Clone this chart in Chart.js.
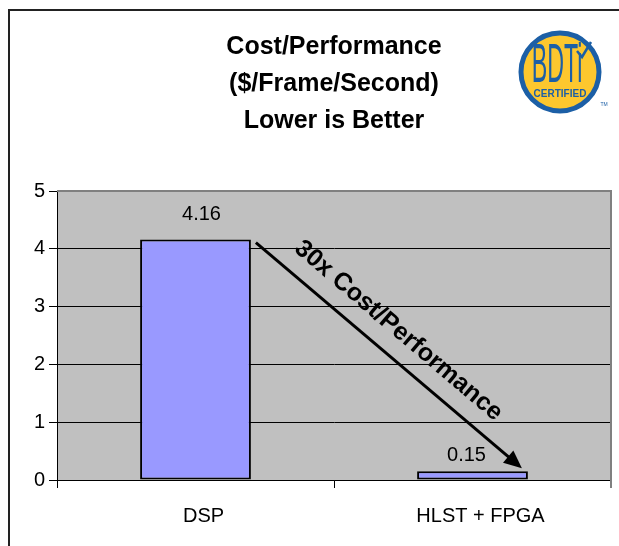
<!DOCTYPE html>
<html>
<head>
<meta charset="utf-8">
<title>Cost/Performance</title>
<script src="https://cdn.jsdelivr.net/npm/chart.js@4.4.1/dist/chart.umd.min.js"></script>
<style>
  html, body { margin: 0; padding: 0; background: #fff; }
  #wrap { width: 619px; height: 546px; }
</style>
</head>
<body>
<div id="wrap"><canvas id="costChart" width="619" height="546"></canvas></div>
<script>

// chart data
const categories = ['DSP', 'HLST + FPGA'];
const costPerFps = [4.16, 0.15];
const valueLabels = ['4.16', '0.15'];
const yTicks = [0, 1, 2, 3, 4, 5];
const titleLines = ['Cost/Performance', '($/Frame/Second)', 'Lower is Better'];
const arrowText = '30x Cost/Performance';

const FONT = '"Liberation Sans", Arial, sans-serif';
Chart.defaults.font.family = FONT;
Chart.defaults.color = '#000';

// gray plot area + gray top/right border
const plotBackground = {
  id: 'plotBackground',
  beforeDraw(chart) {
    const { ctx, chartArea: a } = chart;
    ctx.save();
    ctx.fillStyle = '#C0C0C0';
    ctx.fillRect(a.left, a.top, a.right - a.left, a.bottom - a.top);
    ctx.restore();
  },
  afterDraw(chart) {
    const { ctx, chartArea: a } = chart;
    ctx.save();
    ctx.strokeStyle = '#808080';
    ctx.lineWidth = 2;
    ctx.beginPath();
    ctx.moveTo(a.left, a.top);
    ctx.lineTo(a.right, a.top);
    ctx.lineTo(a.right, a.bottom + 8);
    ctx.stroke();
    ctx.restore();
  }
};

// outer frame (runs off the right / bottom of the picture)
const outerFrame = {
  id: 'outerFrame',
  afterDraw(chart) {
    const ctx = chart.ctx;
    ctx.save();
    ctx.strokeStyle = '#222';
    ctx.lineWidth = 2;
    ctx.beginPath();
    ctx.moveTo(9, chart.height + 2);
    ctx.lineTo(9, 10);
    ctx.lineTo(chart.width + 2, 10);
    ctx.stroke();
    ctx.restore();
  }
};

// value labels above bars
const barValues = {
  id: 'barValues',
  afterDatasetsDraw(chart, args, opts) {
    const ctx = chart.ctx;
    const meta = chart.getDatasetMeta(0);
    ctx.save();
    ctx.font = '20px ' + FONT;
    ctx.fillStyle = '#000';
    ctx.textAlign = 'center';
    ctx.textBaseline = 'middle';
    meta.data.forEach((bar, i) => {
      ctx.fillText(valueLabels[i], bar.x + opts.shiftX[i], bar.y - opts.offsets[i]);
    });
    ctx.restore();
  }
};

// arrow from the DSP bar down to the FPGA bar, with its caption
const savingArrow = {
  id: 'savingArrow',
  afterDatasetsDraw(chart) {
    const ctx = chart.ctx;
    const meta = chart.getDatasetMeta(0);
    const b0 = meta.data[0], b1 = meta.data[1];
    const x0 = b0.x + b0.width / 2 + 5, y0 = b0.y + 3;
    const x1 = b1.x + b1.width / 2 - 6, y1 = b1.y - 3;
    const ang = Math.atan2(y1 - y0, x1 - x0);
    const len = Math.hypot(x1 - x0, y1 - y0);
    const head = 18, half = 8;

    ctx.save();
    ctx.translate(x0, y0);
    ctx.rotate(ang);
    ctx.strokeStyle = '#000';
    ctx.fillStyle = '#000';
    ctx.lineWidth = 3;
    ctx.beginPath();
    ctx.moveTo(0, 0);
    ctx.lineTo(len - head + 2, 0);
    ctx.stroke();
    ctx.beginPath();
    ctx.moveTo(len, 0);
    ctx.lineTo(len - head, -half);
    ctx.lineTo(len - head, half);
    ctx.closePath();
    ctx.fill();

    ctx.font = 'bold 25px ' + FONT;
    ctx.textAlign = 'center';
    ctx.textBaseline = 'middle';
    ctx.fillText(arrowText, len * 0.475, -25);
    ctx.restore();
  }
};

// BDTi certified badge
const badge = {
  id: 'badge',
  afterDraw(chart) {
    const ctx = chart.ctx;
    const cx = 560, cy = 72, r = 39;
    const blue = '#1C5FA6';
    ctx.save();
    ctx.beginPath();
    ctx.arc(cx, cy, r, 0, Math.PI * 2);
    ctx.fillStyle = '#FDC72E';
    ctx.fill();
    ctx.lineWidth = 5;
    ctx.strokeStyle = blue;
    ctx.stroke();

    ctx.fillStyle = blue;
    ctx.textAlign = 'center';
    ctx.textBaseline = 'alphabetic';
    ctx.save();
    ctx.translate(cx - 3, cy + 10);
    ctx.scale(0.58, 1.4);
    ctx.font = '40px ' + FONT;
    ctx.fillText('BDTi', 0, 0);
    ctx.restore();

    // check mark over the i
    ctx.beginPath();
    ctx.moveTo(cx + 17, cy - 21);
    ctx.lineTo(cx + 22, cy - 15);
    ctx.lineTo(cx + 31, cy - 30);
    ctx.lineWidth = 2.5;
    ctx.strokeStyle = blue;
    ctx.stroke();

    ctx.font = 'bold 10px ' + FONT;
    ctx.fillText('CERTIFIED', cx, cy + 25);
    ctx.font = '5px ' + FONT;
    ctx.fillText('TM', cx + 44, cy + 34);
    ctx.restore();
  }
};

const ctx = document.getElementById('costChart').getContext('2d');
const costChart = new Chart(ctx, {
  type: 'bar',
  data: {
    labels: categories,
    datasets: [{
      label: 'Cost/Performance',
      data: costPerFps,
      backgroundColor: '#9999FF',
      borderColor: '#000',
      borderWidth: 2,
      borderSkipped: false,
      barPercentage: 0.4,
      categoryPercentage: 1.0
    }]
  },
  options: {
    responsive: false,
    animation: false,
    devicePixelRatio: 1,
    layout: { padding: { left: 10, right: 8, top: 0, bottom: 0 } },
    plugins: {
      legend: { display: false },
      tooltip: { enabled: false },
      title: {
        display: true,
        fullSize: false,
        text: titleLines,
        color: '#000',
        font: { size: 25, weight: 'bold', lineHeight: 1.48 },
        padding: { top: 28.5, bottom: 51.5 }
      },
      barValues: { offsets: [25, 16], shiftX: [6, -6] }
    },
    scales: {
      x: {
        grid: {
          display: true,
          drawOnChartArea: false,
          drawTicks: true,
          tickLength: 8,
          color: '#000'
        },
        border: { display: true, color: '#000', width: 1 },
        ticks: { font: { size: 20 }, padding: 16, labelOffset: 8, color: '#000' },
        afterFit(scale) { scale.height = 66; }
      },
      y: {
        min: 0,
        max: 5,
        afterBuildTicks(scale) { scale.ticks = yTicks.map(v => ({ value: v })); },
        grid: {
          color: c => (c.tick && c.tick.value === 5 ? '#808080' : '#000'),
          tickColor: '#000',
          tickLength: 8,
          lineWidth: 1
        },
        border: { display: true, color: '#000', width: 1 },
        ticks: { font: { size: 20 }, padding: 4, color: '#000' },
        afterFit(scale) { scale.width = 47; }
      }
    }
  },
  plugins: [plotBackground, barValues, savingArrow, badge, outerFrame]
});

</script>
</body>
</html>
